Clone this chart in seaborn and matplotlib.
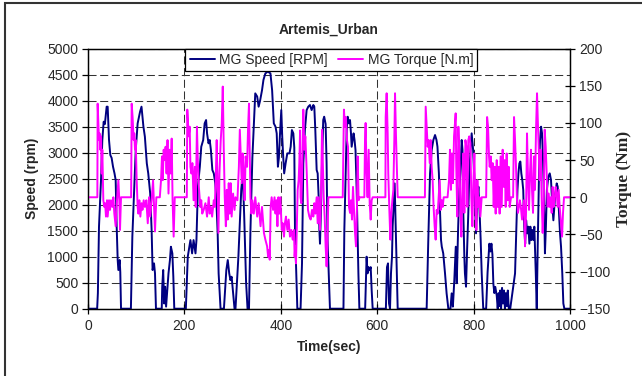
import matplotlib
matplotlib.use("Agg")
import matplotlib.pyplot as plt
import seaborn as sns
import pandas as pd
from matplotlib.patches import Rectangle

# ---------------- data ----------------
speed_time = [0, 19, 20.5, 22.8, 27, 29.7, 32.5, 35, 38.7, 40.8, 43.6, 46.3, 49, 51.9, 55, 57.4, 59.5, 61.6, 63, 65.7, 67, 68.5,
              89, 92, 96, 99, 103, 108, 111, 115, 118, 122, 125, 129, 132, 134, 137, 139, 141,
              153, 154, 156, 158, 160, 162, 164, 167, 170, 172, 175, 177, 179,
              203, 207, 212.5, 216, 219, 223, 225, 228, 232, 235, 239, 242, 245, 247, 250, 252.5, 255, 258, 261, 264, 266, 269, 271, 275,
              282, 284, 287, 290, 293, 295.5, 298, 301, 304,
              306, 312, 318, 321, 324, 328, 331, 334, 337, 341, 347, 351, 354, 357, 361, 364, 368, 373, 378.5, 382, 385.5, 389, 391.5, 394, 396, 398,
              401, 403, 405, 407, 410, 413.5, 418, 420.5, 423, 426, 428, 429.4, 431.5, 434.3,
              441, 444, 446.7, 450, 453.6, 457, 460.5, 464, 467.5, 469.5, 471.6, 474.4, 476.5, 478.5, 480, 481.3, 483.4, 485.5, 488, 490, 493, 495, 497, 500, 502,
              530, 531.8, 534.6, 536.7, 538.7, 541.5, 543.6, 545.6, 547, 549, 551, 553, 555, 557.4, 559.5, 561, 563,
              575, 578, 580, 582, 584.4, 586.5, 588.5, 590.6,
              618, 620.3, 622.4, 624.5, 626.6, 628.6, 630.7, 632, 634, 636.2, 638.3, 640.4, 642.5,
              702.6, 706, 709.6, 713, 716.5, 720, 723, 725, 728, 730, 732.4, 734, 737, 740.7, 744, 747.6,
              752, 754.5, 757, 760, 763, 765, 767, 768, 770.4, 772.5, 775.3, 777, 778.7, 780.8, 782, 784.3, 786.3, 789, 791, 794, 796, 799, 801, 803, 805,
              807.8, 810, 812, 814.7, 816.8, 820,
              826, 829, 832.7, 835, 837, 839, 841, 843, 845, 848, 850, 852, 853.5, 855, 857, 859, 861, 863, 865, 867, 869, 871, 873, 876,
              886, 888, 891, 893, 895, 897, 899, 901, 903, 905, 907, 909, 911.5, 913.6, 915.7, 917.8, 919.8, 922, 924, 926, 929, 931,
              933, 935.7, 937.8, 940, 942, 944, 946.1, 948, 950, 952, 955, 958, 960.6, 963.4, 965.5, 967.6, 969.6, 972.4, 974.5, 976.5,
              979.3, 981.4, 984, 986.2, 988.3, 1000]
speed_rpm = [0, 0, 300, 1577, 2474, 3244, 3596, 3550, 3885, 3885, 3244, 2955, 2900, 2731, 2602, 2474, 1577, 936, 744, 936, 700, 0,
             0, 1385, 2346, 3051, 3564, 3788, 3885, 3500, 3308, 2795, 2602, 2218, 1513, 744, 872, 680, 0,
             0, 423, 744, 100, 423, 40, 300, 680, 936, 1192, 1064, 620, 0,
             0, 1000, 1320, 1064, 1320, 1064, 1320, 2346, 2730, 3115, 3244, 3564, 3628, 3372, 3180, 3244, 3051, 2667, 2602, 2410, 2154, 1449, 680, 0,
             0, 295, 744, 936, 680, 550, 615, 300, 0,
             0, 1000, 2300, 2600, 1800, 500, 0, 0, 1500, 2900, 4141, 4080, 3885, 4000, 4200, 4400, 4525, 4560, 4525, 4200, 3564, 3500, 3372, 2730, 2900, 3300,
             3820, 3300, 2923, 2602, 2795, 2987, 2987, 3115, 3436, 3372, 3100, 1513, 872, 0,
             0, 872, 2795, 3436, 3820, 3885, 3917, 3820, 3917, 3885, 3436, 2667, 2602, 2154, 1513, 1250, 1890, 2795, 3628, 3692, 3550, 2800, 1320, 500, 0,
             0, 1513, 2602, 3436, 3692, 3564, 3628, 3372, 3115, 3244, 3372, 3244, 3051, 2282, 1320, 680, 0,
             0, 1000, 680, 800, 740, 800, 360, 0,
             0, 800, 872, 100, 0, 680, 1000, 1577, 1961, 2410, 1577, 680, 0,
             0, 1320, 2602, 3051, 3244, 3340, 3244, 3115, 2602, 1961, 1320, 1192, 1064, 680, 295, 0,
             0, 295, 40, 550, 1192, 490, 1192, 1577, 2282, 2602, 3244, 3051, 1833, 1000, 680, 423, 1064, 1833, 2602, 3115, 3372, 3051, 2602, 1961, 1449,
             2090, 2346, 1961, 1320, 680, 0,
             0, 700, 1250, 1100, 1250, 1050, 480, 300, 420, 250, 0, 300, 50, 350, 0, 400, 100, 350, 0, 300, 50, 350, 0, 0,
             680, 1320, 2282, 2602, 2795, 2830, 2602, 2474, 2282, 1577, 1250, 1700, 1449, 1577, 1250, 1577, 1320, 1513, 1320, 1577, 680, 0,
             1192, 2602, 3244, 3500, 3372, 2859, 2090, 1064, 1577, 2282, 2538, 2602, 2474, 1961, 1700, 1961, 2218, 2410, 2346, 1961,
             1449, 1192, 680, 100, 0, 0]

torque_time = [0, 19.4, 20, 22.8, 24, 25.6, 27, 28.4, 29.7, 31.8, 33.9, 35.5, 37.3, 39.4, 40.8, 43.6, 45.6, 47.7, 50.5, 52.6, 54.6, 57.4,
               60.2, 63, 65, 66.4, 68.5,
               89.5, 90.6, 92.5, 94.7, 96, 97.5, 99, 101, 103, 104.5, 106.5, 108.6, 111, 113, 115.5, 118, 121, 124, 126.6, 129, 132, 135,
               137, 139, 141.8,
               149, 151.5, 153.5, 155, 157, 159, 161, 163, 165, 167, 169.4, 171.5, 173.6, 175.5, 177.7, 180,
               205, 206, 209, 211, 212.5, 214.5, 216.6, 219, 221.5, 223.5, 226, 228, 230, 233, 235, 237, 240, 243.6, 247, 250.5, 252.5,
               255, 257.5, 261, 263, 265, 267, 269, 270.6, 272.7, 275.4, 277.5, 279.6, 281.7, 283.7, 286, 288, 290, 292, 294, 296, 298,
               301, 304, 306, 310, 313, 315, 317, 319, 321, 323, 325, 327, 330, 332, 334, 335.6, 337, 339, 341, 344, 347, 351, 354, 358,
               361, 365, 368, 371.6, 373.7, 375.8, 377, 379, 381, 384, 387, 389, 391, 393, 395, 397, 399, 402, 404, 406.6, 408.5, 410.7,
               413.5, 416.3, 419, 421.8, 424.6, 427.3, 428.7, 430, 431.5, 433, 435, 437, 438.4, 440, 441, 442.6, 444.5, 446.7, 448.8,
               450.9, 453.6, 456.4, 459.2, 462, 464.7, 467.5, 469.5, 471.6, 474.4, 476.5, 478.5, 481.3, 483.4, 485.5, 486.8, 489, 491,
               493, 495, 496.5, 498.6,
               528.5, 531, 533, 535, 537.3, 539.4, 541.5, 543.6, 545.6, 547.7, 549.8, 552, 554, 556, 558, 559.5, 561.5, 563.6,
               573.3, 574.7, 576, 578, 580, 582.3, 584.4, 586.5, 588.5, 590.6,
               617, 617.6, 619.6, 621.7, 623, 625, 627.3, 629.3, 631.4, 633.5, 635.5, 637, 639, 641, 642.5,
               699, 700.6, 702.6, 704.7, 706.8, 709, 711, 713, 715, 717, 719.2, 721.3, 723.4, 725.5, 727.5, 729.6, 731.7, 733.8, 735.8, 738,
               746, 749, 751, 753, 755, 757.3, 759.4, 761.4, 762.8, 764, 766.3, 768.4, 770.4, 772.5, 774.6, 776.7, 778.7, 780.8, 783,
               785, 787, 789, 791, 793.3, 795.3, 797.4, 799.5, 801.6, 803.6, 805.7, 807.8, 810, 812, 814, 816.8,
               826, 828, 830, 832, 833.4, 835.5, 837.5, 839.6, 841.7, 843.8, 845.8, 848, 850, 852, 854, 856, 858.3, 860.3, 862.4, 864.5,
               866.6, 868.6, 870.7, 872.8, 874.9, 877.6,
               882, 883.9, 886, 888, 890, 892, 894, 896, 898, 900.5, 902.5, 904.6, 906.7, 908.8, 910.8, 913, 915, 917, 919, 921.2, 923.3,
               925.4, 927.4, 929.5, 931.6, 933, 935, 937, 939, 941.3, 943.3, 945.4, 947.5, 949.6, 951.6, 953.7, 955.8, 957.9, 960, 962,
               964, 966, 968.2, 970.3, 972.4, 974.5, 976.5, 978.6, 981.4, 983.5, 985.5, 987.6, 1000]
torque_nm = [0, 0, 126, 77, 86, 64, 82, 32, 64, -4, -13, -8, -26, -4, -26, -4, -17, -4, -13, 0, -22, -39,
             -4, 23, -4, -44, 0,
             0, 126, 108, 77, 86, 64, 77, 23, -13, -22, -4, -26, -8, -17, -4, -13, -4, -35, 0, -26, -4, 23,
             -13, -46, 0,
             0, 23, 55, 23, 64, 50, 68, 32, 77, 5, 64, 32, 79, -4, -53, 0,
             0, 118, 82, 95, 41, 32, 46, -4, 41, -13, 95, 46, 14, -13, -4, -22, -17, -8, -26, 0, -22,
             -13, -26, -4, -13, 23, 77, 10, -48, 32, 77, 100, 149, 64, 0, -39, 10, -30, 19, -22, 19, -26,
             5, -17, 0, -4, 41, 91, 55, 19, 59, 32, -4, 55, 41, 91, 126, 55, 0, -22, -4, -22, 0, -26, -8, -39,
             -13, -48, -57, -66, -80, -71, -84, -13, 0, -17, 0, -22, -4, -39, 0, -22, 0, -44, -35, -53, -35, -26,
             -44, -30, -53, -44, -57, -44, -80, -66, -89, -44, 10, 23, 46, 90, 0, -8, 40, 118, 64,
             82, 37, -17, -26, -30, -17, -26, -8, -22, 0, -35, 0, -44, 0, 91, 55, 0, -26,
             -66, -93, -70, 0,
             0, 118, 95, 108, 77, 68, -13, -21, -4, -30, 14, -17, -48, -66, -13, 55, -4, 0,
             0, 77, 100, 32, 0, 64, -8, -30, -4, 0,
             0, 108, 140, 86, 32, -13, -57, -21, -4, 10, 77, 140, 82, 32, 0,
             0, 122, 95, 68, 77, 46, 77, 41, 23, -13, -39, -57, -17, -22, 0, 23, -17, -4, -13, 0,
             0, 23, 64, 10, 59, 19, 82, 100, 113, 41, -26, 95, 59, -13, -53, 10, 59, -21, 77,
             68, -13, 77, 82, 73, 0, -39, 19, 59, -13, -44, 23, -13, 0, -26, 0,
             0, 108, 95, 55, 41, 55, 23, 46, -13, 41, -22, 50, -13, 41, -22, 55, -13, 64, 14, 50,
             -13, 59, -4, 41, -13, 0,
             0, 108, 77, 41, -4, -21, -13, -4, -13, -30, -13, -4, -66, -21, 86, 23, -17, 32, 64, 10, -21,
             55, 10, 91, 140, 108, 68, 23, 64, -4, -48, -13, 91, 68, 32, -13, 5, -13, 0, -21,
             14, -13, -4, 14, 5, -13, 10, -13, -35, -53, -21, 0, 0]

x_ticks = [0, 200, 400, 600, 800, 1000]
speed_ticks = list(range(0, 5001, 500))
torque_ticks = list(range(-150, 201, 50))

speed_df = pd.DataFrame({"Time": speed_time, "Speed": speed_rpm})
torque_df = pd.DataFrame({"Time": torque_time, "Torque": torque_nm})

# ---------------- style ----------------
sns.set_theme(style="white")
plt.rcParams["font.family"] = ["Liberation Sans", "DejaVu Sans"]
plt.rcParams["lines.scale_dashes"] = False

fig = plt.figure(figsize=(6.42, 3.76), dpi=100)
ax1 = fig.add_axes([88 / 642, 1 - 308.7 / 376, 482 / 642, 260 / 376])
ax2 = ax1.twinx()

sns.lineplot(data=speed_df, x="Time", y="Speed", ax=ax1, color="#000080", linewidth=1.4,
             sort=False, estimator=None, label="MG Speed [RPM]", legend=False)
sns.lineplot(data=torque_df, x="Time", y="Torque", ax=ax2, color="#FF00FF", linewidth=1.4,
             sort=False, estimator=None, label="MG Torque [N.m]", legend=False)

ax1.set_xlim(0, 1000)
ax1.set_ylim(0, 5000)
ax2.set_ylim(-150, 200)
ax1.set_xticks(x_ticks)
ax1.set_yticks(speed_ticks)
ax2.set_yticks(torque_ticks)

ax1.grid(True, axis="both", color="0.2", linestyle=(0, (5.8, 2.6)), linewidth=0.75)
ax1.set_axisbelow(True)
ax2.grid(False)

for ax in (ax1, ax2):
    for s in ax.spines.values():
        s.set_color("black")
        s.set_linewidth(0.9)

ax1.tick_params(axis="x", direction="inout", length=7, width=0.9, color="black", labelsize=10, pad=4, bottom=True)
ax1.tick_params(axis="y", direction="out", length=4, width=0.9, color="black", labelsize=10, pad=3, left=True)
ax2.tick_params(axis="y", direction="inout", length=7, width=0.9, color="black", labelsize=10, pad=3, right=True)

ax1.set_xlabel("Time(sec)", fontsize=10, fontweight="bold", labelpad=5)
ax1.set_ylabel("Speed (rpm)", fontsize=10, fontweight="bold", labelpad=6)
ax2.set_ylabel("Torque (Nm)", fontsize=12.5, fontweight="bold", family=["Liberation Serif", "DejaVu Serif"],
               labelpad=4)
ax1.set_title("Artemis_Urban", fontsize=10, fontweight="bold", pad=11)

h1, l1 = ax1.get_legend_handles_labels()
h2, l2 = ax2.get_legend_handles_labels()
leg = ax2.legend(h1 + h2, l1 + l2, loc="upper center", bbox_to_anchor=(0.505, 1.0), ncol=2,
                 frameon=True, fancybox=False, framealpha=1, edgecolor="black", fontsize=10,
                 handlelength=1.8, handletextpad=0.35, columnspacing=0.7, borderaxespad=0,
                 borderpad=0.3)
leg.get_frame().set_linewidth(0.9)

fig.patches.append(Rectangle((5 / 642, -0.2), 1.5, 1.2 - 3 / 376, transform=fig.transFigure,
                             fill=False, edgecolor="#333333", linewidth=1.5))

fig.savefig("out.png", dpi=100)
